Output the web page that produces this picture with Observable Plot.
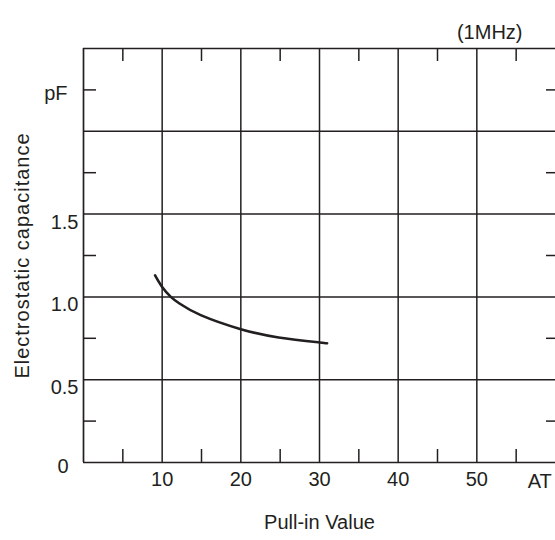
<!DOCTYPE html>
<html>
<head>
<meta charset="utf-8">
<script src="https://cdn.jsdelivr.net/npm/d3@7"></script>
<script src="https://cdn.jsdelivr.net/npm/@observablehq/plot@0.6"></script>
<style>
  html, body { margin: 0; padding: 0; background: #fff; }
  .ytitle text { letter-spacing: 1px; }
</style>
</head>
<body>
<div id="chart"></div>
<script>
// Data
const pullIn      = [9.1, 10, 11.1, 12.2, 14.9, 20, 24.8, 30, 30.9];
const capacitance = [1.13, 1.06, 1.0, 0.96, 0.89, 0.805, 0.755, 0.725, 0.72];

const xGridTicks  = [10, 20, 30, 40, 50];
const xMinorTicks = [5, 15, 25, 35, 45, 55];
const yGridTicks  = [0.5, 1.0, 1.5, 2.0];
const yLabelTicks = [0.5, 1.0, 1.5];
const yMinorTicks = [0.25, 0.75, 1.25, 1.75, 2.25];

const xTitle = "Pull-in Value";
const yTitle = "Electrostatic capacitance";
const xUnit = "AT";
const yUnit = "pF";
const zeroLabel = "0";
const note = "(1MHz)";

const curve = pullIn.map((x, i) => ({x, y: capacitance[i]}));

const ink = "#231f20";
const fs = 20;

const chart = Plot.plot({
  width: 555,
  height: 540,
  marginLeft: 83,
  marginRight: 0,
  marginTop: 48,
  marginBottom: 78,
  style: {fontFamily: "'Liberation Sans', Arial, Helvetica, sans-serif", color: ink, background: "#fff"},
  x: {domain: [0, 60]},
  y: {domain: [0, 2.5]},
  marks: [
    // grid
    Plot.ruleX(xGridTicks, {stroke: ink, strokeWidth: 1.5}),
    Plot.ruleY(yGridTicks, {stroke: ink, strokeWidth: 1.5}),
    // border (left, bottom, top)
    Plot.ruleX([0], {stroke: ink, strokeWidth: 1.7}),
    Plot.ruleY([0, 2.5], {stroke: ink, strokeWidth: 1.7}),
    // inward minor ticks
    Plot.axisX(xMinorTicks, {anchor: "bottom", tickSize: -13, tickFormat: () => "", label: null, stroke: ink, strokeWidth: 1.5}),
    Plot.axisX(xMinorTicks, {anchor: "top", tickSize: -12, tickFormat: () => "", label: null, stroke: ink, strokeWidth: 1.5}),
    Plot.axisY(yMinorTicks, {anchor: "left", tickSize: -13, tickFormat: () => "", label: null, stroke: ink, strokeWidth: 1.5}),
    Plot.axisY(yMinorTicks, {anchor: "right", tickSize: -10, tickFormat: () => "", label: null, stroke: ink, strokeWidth: 1.5}),
    // tick labels
    Plot.axisX(xGridTicks, {anchor: "bottom", tickSize: 0, tickPadding: 9, fontSize: fs, label: null, fill: ink}),
    Plot.axisY(yLabelTicks, {anchor: "left", tickSize: 0, tickPadding: 5, dy: 8, fontSize: fs, label: null, fill: ink, tickFormat: d3.format(".1f")}),
    Plot.text([zeroLabel], {x: 0, y: 0, dx: -15, dy: 4, textAnchor: "end", fontSize: fs, fill: ink}),
    Plot.text([yUnit], {x: 0, y: 2.25, dx: -16, dy: 4, textAnchor: "end", fontSize: fs, fill: ink}),
    Plot.text([xUnit], {x: 58, y: 0, dy: 19, fontSize: fs, fill: ink}),
    // titles
    Plot.text([xTitle], {frameAnchor: "bottom", dy: 66, fontSize: fs, fill: ink}),
    Plot.text([yTitle], {frameAnchor: "left", textAnchor: "middle", dx: -61, rotate: -90, fontSize: fs, fill: ink, className: "ytitle"}),
    Plot.text([note], {frameAnchor: "top-right", dx: -33, dy: -24, textAnchor: "end", fontSize: fs, fill: ink}),
    // the curve
    Plot.line(curve, {x: "x", y: "y", curve: "natural", stroke: ink, strokeWidth: 2.6})
  ]
});

document.getElementById("chart").appendChild(chart);
</script>
</body>
</html>
